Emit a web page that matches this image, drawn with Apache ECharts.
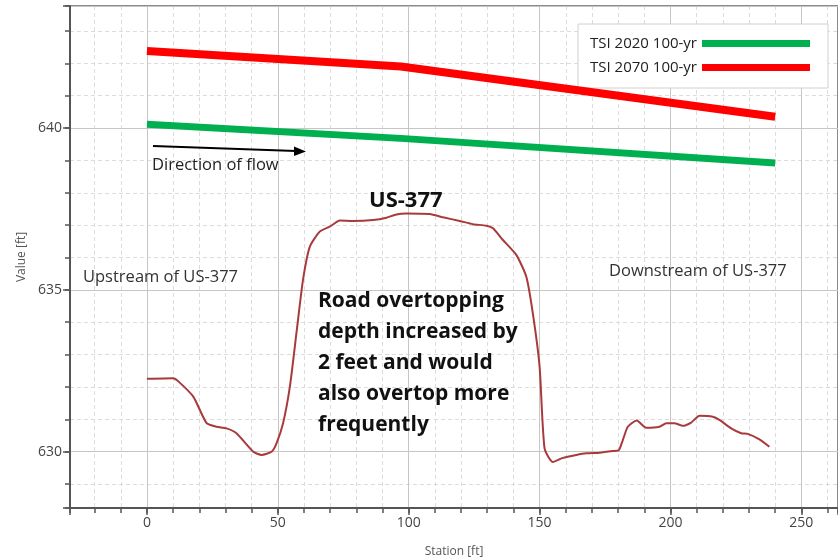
<!DOCTYPE html>
<html>
<head>
<meta charset="utf-8">
<title>Water surface profile at US-377</title>
<script src="https://cdn.jsdelivr.net/npm/echarts@6/dist/echarts.min.js"></script>
<style>
    html, body { margin: 0; padding: 0; background: #fff; }
    #chart { width: 838px; height: 560px; }
</style>
</head>
<body>
<div id="chart"></div>
<script>
    // axis window (station in ft, elevation in ft)
    const stationRange = [-29.4, 264];
    const valueRange = [628.26, 643.77];

    // water surface profiles [station, elevation]
    const tsi2020 = [[0, 640.12], [97, 639.68], [240, 638.92]];
    const tsi2070 = [[0, 642.38], [97, 641.9], [240, 640.35]];

    // ground / road profile [station, elevation]
    const ground = [
        [0, 632.25], [10, 632.27], [11.9, 632.18], [17.7, 631.7], [22.8, 630.88],
        [26.6, 630.77], [30.4, 630.72], [34.2, 630.57], [40.6, 630.0], [43.8, 629.9],
        [47.6, 630.0], [49.5, 630.26], [52, 630.88], [54.6, 632.01], [57.1, 633.66],
        [59.6, 635.3], [62.2, 636.33], [66, 636.8], [69.8, 636.95], [73.7, 637.14],
        [78.7, 637.13], [86.4, 637.16], [91.5, 637.23], [95.3, 637.33], [99.1, 637.36],
        [108, 637.34], [113.1, 637.24], [119.5, 637.13], [124.5, 637.03], [129.7, 636.98],
        [132.2, 636.9], [136, 636.54], [141.1, 636.08], [144.9, 635.41], [147.4, 634.28],
        [150, 632.63], [151.9, 630.1], [155.1, 629.68], [158.9, 629.81], [164, 629.9],
        [167.8, 629.95], [172.9, 629.97], [178, 630.02], [180.3, 630.05], [181.8, 630.36],
        [183.7, 630.77], [187.1, 630.96], [190.7, 630.74], [195.8, 630.77], [198.4, 630.88],
        [201.5, 630.88], [204.7, 630.8], [207.9, 630.9], [211.1, 631.11], [216.2, 631.08],
        [218.7, 630.98], [223.2, 630.72], [227, 630.57], [229.5, 630.55], [234, 630.38],
        [237.8, 630.15]
    ];

    const legendNames = ['TSI 2020 100-yr', 'TSI 2070 100-yr'];
    const noteLines = [
        'Road overtopping',
        'depth increased by',
        '2 feet and would',
        'also overtop more',
        'frequently'
    ];

    const FONT = '"Open Sans", "Noto Sans", sans-serif';

    const chart = echarts.init(document.getElementById('chart'));

    // major axis: labels + solid grid, minor axis: dashed grid + small ticks
    function majorAxis(range, step, name, extra) {
        return Object.assign({
            type: 'value',
            min: range[0],
            max: range[1],
            minInterval: step,
            maxInterval: step,
            splitNumber: 8,
            name: name,
            nameLocation: 'middle',
            nameTextStyle: { color: '#555', fontSize: 12, fontFamily: FONT },
            axisLine: { show: true, onZero: false, lineStyle: { color: '#555', width: 2 } },
            axisTick: { show: true, length: 7, lineStyle: { color: '#555', width: 1.5 } },
            axisLabel: {
                color: '#444',
                fontSize: 14,
                fontFamily: FONT,
                formatter: (v) => (Math.abs(v / step - Math.round(v / step)) < 1e-6 ? String(Math.round(v)) : '')
            },
            splitLine: { show: true, lineStyle: { color: '#c6c6c6', width: 1 } }
        }, extra);
    }
    function minorAxis(range, step, extra) {
        return Object.assign({
            type: 'value',
            min: range[0],
            max: range[1],
            minInterval: step,
            maxInterval: step,
            splitNumber: 40,
            axisLine: { show: false, onZero: false },
            axisTick: { show: true, length: 5, lineStyle: { color: '#555', width: 1.5 } },
            axisLabel: { show: false },
            splitLine: { show: true, lineStyle: { color: '#dcdcdc', width: 1, type: [4, 3] } }
        }, extra);
    }

    chart.setOption({
        animation: false,
        backgroundColor: '#fff',
        grid: {
            left: 70,
            right: 0,
            top: 6,
            bottom: 52,
            outerBoundsMode: 'none',
            show: true,
            borderColor: '#666',
            borderWidth: 1.5
        },
        xAxis: [
            majorAxis(stationRange, 50, 'Station [ft]', { position: 'bottom', nameGap: 38, z: 3 }),
            minorAxis(stationRange, 10, { position: 'bottom', z: 1 })
        ],
        yAxis: [
            majorAxis(valueRange, 5, 'Value [ft]', { position: 'left', nameGap: 41, z: 3 }),
            minorAxis(valueRange, 1, { position: 'left', z: 1 })
        ],
        legend: {
            data: legendNames,
            orient: 'vertical',
            right: 10,
            top: 24,
            align: 'right',
            icon: 'rect',
            itemWidth: 108,
            itemHeight: 7,
            itemGap: 9,
            padding: [12, 18, 13, 12],
            backgroundColor: '#fff',
            borderColor: '#d0d0d0',
            borderWidth: 1,
            textStyle: { color: '#222', fontSize: 15, fontFamily: FONT }
        },
        series: [
            {
                name: legendNames[0],
                type: 'line',
                data: tsi2020,
                showSymbol: false,
                lineStyle: { color: '#00b050', width: 7, cap: 'butt' },
                itemStyle: { color: '#00b050' },
                z: 4
            },
            {
                name: legendNames[1],
                type: 'line',
                data: tsi2070,
                showSymbol: false,
                lineStyle: { color: '#ff0000', width: 8, cap: 'butt' },
                itemStyle: { color: '#ff0000' },
                z: 4
            },
            {
                name: 'Ground',
                type: 'line',
                data: ground,
                showSymbol: false,
                smooth: 0.2,
                lineStyle: { color: '#a83a3c', width: 2 },
                z: 3
            }
        ],
        graphic: [
            {
                type: 'line',
                z: 50,
                shape: { x1: 153, y1: 146, x2: 296, y2: 151 },
                style: { stroke: '#000', lineWidth: 2 }
            },
            {
                type: 'polygon',
                z: 50,
                shape: { points: [[306, 151.5], [294, 146.5], [294, 156]] },
                style: { fill: '#000' }
            },
            {
                type: 'text',
                z: 50,
                left: 152,
                top: 157,
                style: { text: 'Direction of flow', fill: '#222', font: '16.5px ' + FONT }
            },
            {
                type: 'text',
                z: 50,
                left: 83,
                top: 269,
                style: { text: 'Upstream of US-377', fill: '#333', font: '16.5px ' + FONT }
            },
            {
                type: 'text',
                z: 50,
                left: 609,
                top: 263,
                style: { text: 'Downstream of US-377', fill: '#333', font: '16.5px ' + FONT }
            },
            {
                type: 'text',
                z: 50,
                left: 369,
                top: 190,
                style: { text: 'US-377', fill: '#111', font: 'bold 22px ' + FONT }
            },
            {
                type: 'text',
                z: 50,
                left: 318,
                top: 286,
                style: {
                    text: noteLines.join('\n'),
                    fill: '#111',
                    font: 'bold 21px ' + FONT,
                    lineHeight: 31
                }
            }
        ]
    });
</script>
</body>
</html>
